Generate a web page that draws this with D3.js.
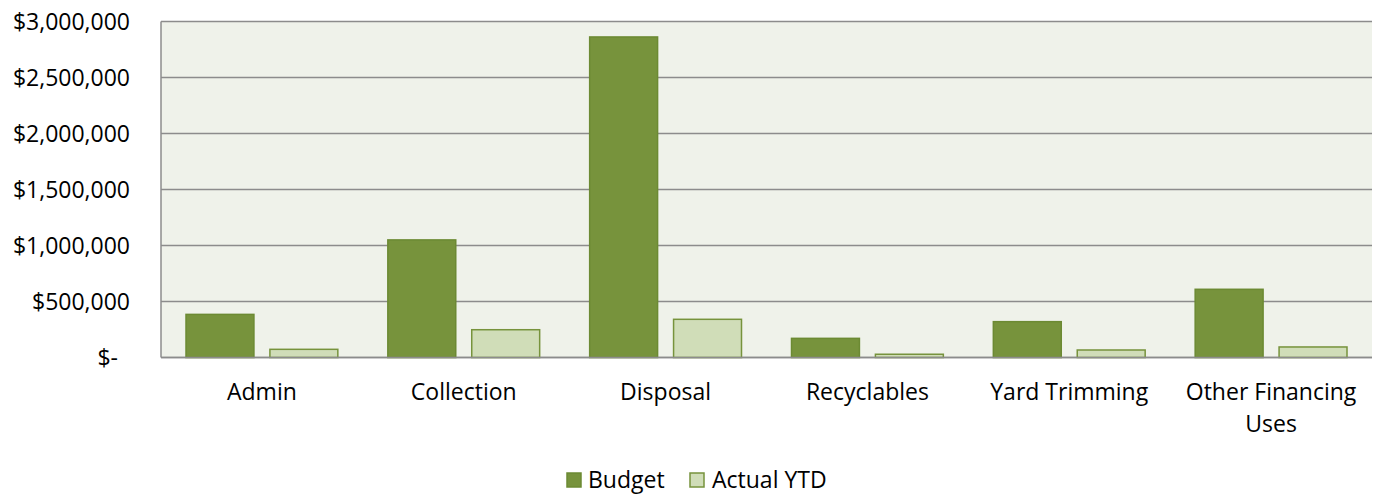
<!DOCTYPE html>
<html><head><meta charset="utf-8">
<script src="https://cdn.jsdelivr.net/npm/d3@7"></script>
<style>body{margin:0;background:#fff}svg text{font-family:"Open Sans",sans-serif}</style>
</head><body>
<svg id="c" width="1377" height="494"></svg>
<script>
const categories = ["Admin","Collection","Disposal","Recyclables","Yard Trimming","Other Financing Uses"];
const budget = [385000, 1050000, 2862000, 171000, 320000, 609000];
const actualYTD = [73000, 248000, 341000, 29000, 67000, 94000];
const seriesNames = ["Budget","Actual YTD"];
const yTicks = [0,500000,1000000,1500000,2000000,2500000,3000000];

const svg = d3.select("#c");
const L=161, R=1372, T=21.5, B=357.5;
const FS = 23;
const x = d3.scaleBand().domain(categories).range([L,R]);
const x1 = d3.scaleBand().domain(seriesNames).range([25,x.bandwidth()-25]).paddingInner(16/84);
const y = d3.scaleLinear().domain([0,3000000]).range([B,T]);

svg.append("rect").attr("x",L).attr("y",T).attr("width",R-L).attr("height",B-T).attr("fill","#eff2ea");
svg.append("g").selectAll("line").data(yTicks).join("line")
  .attr("x1",L).attr("x2",R).attr("y1",d=>y(d)).attr("y2",d=>y(d))
  .attr("stroke","#8c8c8c").attr("stroke-width",1.5);
svg.append("line").attr("x1",L).attr("x2",L).attr("y1",T).attr("y2",B).attr("stroke","#8c8c8c").attr("stroke-width",1.5);

const fmt = d => d===0 ? "$-" : "$"+d3.format(",")(d);
svg.append("g").selectAll("text").data(yTicks).join("text")
  .attr("x",d=>d===0?118:130).attr("y",d=>y(d)).attr("dy","0.35em")
  .attr("text-anchor","end").attr("font-size",FS).attr("fill","#000").text(fmt);

const colors = {"Budget":{fill:"#77933c",stroke:"#6c8a33"},"Actual YTD":{fill:"#d0ddb8",stroke:"#77933c"}};
const g = svg.append("g");
categories.forEach((c,i)=>{
  const vals = [budget[i], actualYTD[i]];
  seriesNames.forEach((s,j)=>{
    g.append("rect").attr("x",x(c)+x1(s)).attr("width",x1.bandwidth())
      .attr("y",y(vals[j])).attr("height",B-y(vals[j]))
      .attr("fill",colors[s].fill).attr("stroke",colors[s].stroke).attr("stroke-width",1.5);
  });
});
svg.append("line").attr("x1",L).attr("x2",R).attr("y1",B).attr("y2",B).attr("stroke","#8c8c8c").attr("stroke-width",1.5);

const catLabels = svg.append("g");
categories.forEach(c=>{
  const lines = c==="Other Financing Uses" ? ["Other Financing","Uses"] : [c];
  const t = catLabels.append("text").attr("x",x(c)+x.bandwidth()/2).attr("y",400)
    .attr("text-anchor","middle").attr("font-size",FS).attr("fill","#000");
  lines.forEach((ln,k)=>t.append("tspan").attr("x",x(c)+x.bandwidth()/2).attr("dy",k===0?0:32).text(ln));
});

const leg = svg.append("g");
const legPos = [{sx:567,tx:588},{sx:690,tx:712}];
seriesNames.forEach((s,j)=>{
  leg.append("rect").attr("x",legPos[j].sx).attr("y",473).attr("width",14).attr("height",14)
    .attr("fill",colors[s].fill).attr("stroke",colors[s].stroke).attr("stroke-width",1.5);
  leg.append("text").attr("x",legPos[j].tx).attr("y",480).attr("dy","0.35em").attr("font-size",FS).attr("fill","#000").text(s);
});
</script>
</body></html>
